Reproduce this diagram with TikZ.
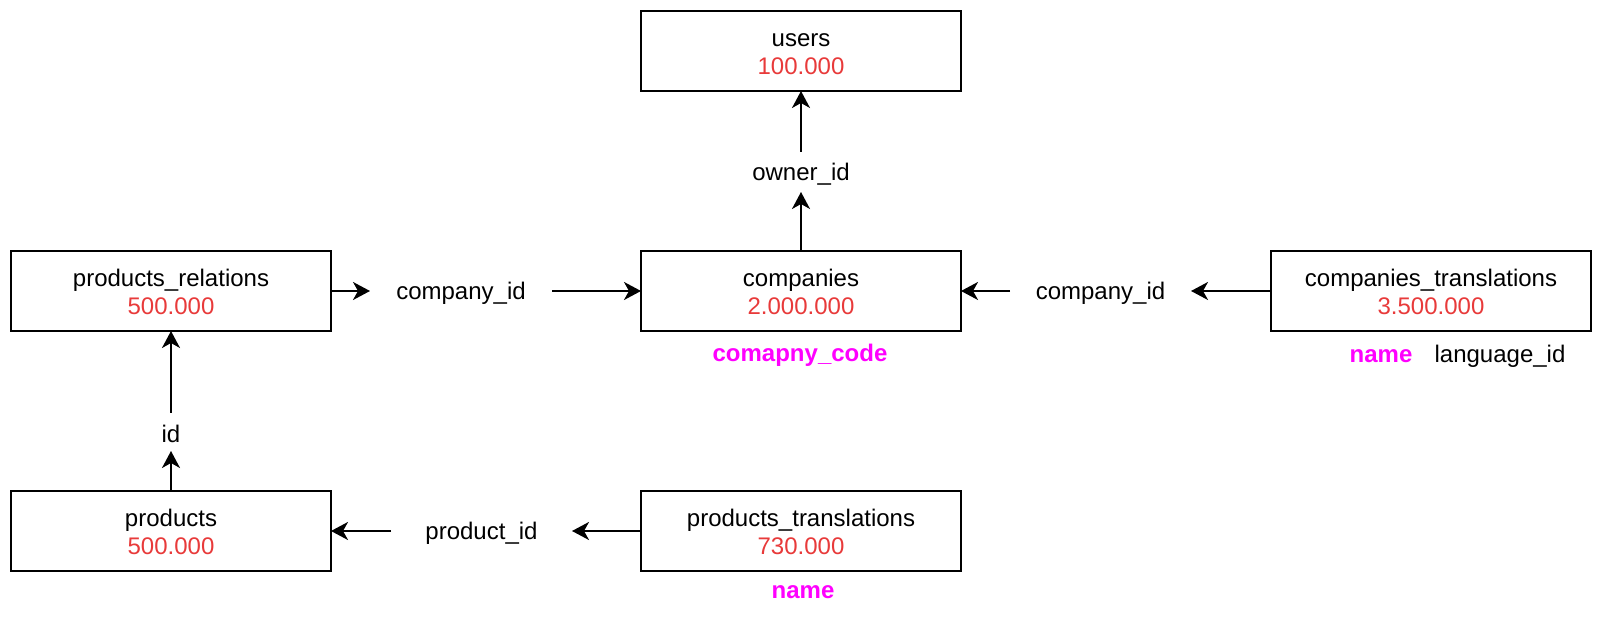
\documentclass[tikz,border=0pt]{standalone}
\usepackage{fontspec}
\setmainfont{Liberation Sans}
\usetikzlibrary{arrows.meta}
\definecolor{numred}{HTML}{E83A3A}
\definecolor{keymag}{HTML}{FF00FF}
\newcommand\twoline[2]{%
  \makebox[0pt]{\raisebox{2.4pt}[0pt][0pt]{\makebox[0pt]{#1}}}%
  \makebox[0pt]{\raisebox{-11.8pt}[0pt][0pt]{\makebox[0pt]{\color{numred}#2}}}}
\newcommand\lowered[1]{\raisebox{-1pt}[\height][\depth]{#1}}
\begin{document}
\begin{tikzpicture}[x=0.5pt,y=-0.5pt,
  every node/.style={font=\fontsize{12}{14}\selectfont},
  table/.style={draw, line width=1pt, minimum width=160pt, minimum height=40pt, inner sep=0pt, outer sep=0pt},
  fk/.style={inner sep=0pt, outer sep=0pt, minimum height=20pt},
  key/.style={font=\fontsize{12}{14}\selectfont\bfseries, text=keymag, anchor=base, inner sep=0pt},
  attr/.style={anchor=base, inner sep=0pt},
  link/.style={line width=1pt, -{Stealth[length=8.5pt,width=9pt,inset=2.5pt]}}
]
\useasboundingbox (0,0) rectangle (1602,624);

\node[table] (users) at (801,51) {\twoline{users}{100.000}};
\node[table] (prel) at (171,291) {\twoline{products\_relations}{500.000}};
\node[table] (comp) at (801,291) {\twoline{companies}{2.000.000}};
\node[table] (ctr) at (1431,291) {\twoline{companies\_translations}{3.500.000}};
\node[table] (prod) at (171,531) {\twoline{products}{500.000}};
\node[table] (ptr) at (801,531) {\twoline{products\_translations}{730.000}};

\node[fk, minimum height=20pt] (owner) at (801,172) {\lowered{owner\_id}};
\node[fk, minimum height=19pt] (idl) at (171,432) {\lowered{id}};
\node[fk, minimum width=91pt] (cid1) at (461,291) {\lowered{company\_id}};
\node[fk, minimum width=90.5pt] (cid2) at (1100.5,291) {\lowered{company\_id}};
\node[fk, minimum width=90.5pt] (pid) at (481.5,531) {\lowered{product\_id}};

\node[key] (ccode) at (800,362) {comapny\_code};
\node[key] (cname) at (1381,363) {name};
\node[attr] (clang) at (1500,363) {language\_id};
\node[key] (pname) at (803,599) {name};

\draw[link] (comp) -- (owner);
\draw[link] (owner) -- (users);
\draw[link] (prel) -- (cid1);
\draw[link] (cid1) -- (comp);
\draw[link] (ctr) -- (cid2);
\draw[link] (cid2) -- (comp);
\draw[link] (prod) -- (idl);
\draw[link] (idl) -- (prel);
\draw[link] (ptr) -- (pid);
\draw[link] (pid) -- (prod);
\end{tikzpicture}
\end{document}
